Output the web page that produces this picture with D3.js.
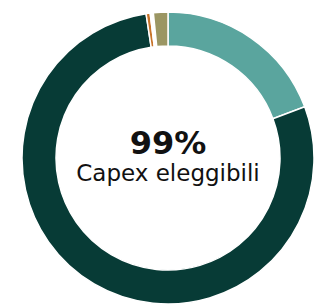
<!DOCTYPE html>
<html>
<head>
<meta charset="utf-8">
<script src="https://cdn.jsdelivr.net/npm/d3@7"></script>
<style>
  body { margin: 0; background: #fff; }
  svg { display: block; }
</style>
</head>
<body>
<div id="chart"></div>
<script>
(function(){
// slices clockwise from 12 o'clock
const categories = ["Capex eleggibili allineati", "Capex eleggibili non allineati", "Altro A", "Altro B", "Capex non eleggibili"];
const values = [19.3, 78.3, 0.45, 0.35, 1.6];
const colors = ["#5aa59e", "#073b36", "#c8742a", "#ffffff", "#9b9663"];
const centerValue = "99%";
const centerLabel = "Capex eleggibili";

const width = 318, height = 305;
const cx = 168, cy = 158;
const outerR = 146, innerR = 112;

const svg = d3.select("#chart")
    .append("svg")
    .attr("width", width)
    .attr("height", height);

const g = svg.append("g")
    .attr("transform", `translate(${cx},${cy})`);

const pie = d3.pie().sort(null).value(d => d.value);
const arc = d3.arc().innerRadius(innerR).outerRadius(outerR);

const data = categories.map((c, i) => ({ name: c, value: values[i], color: colors[i] }));

g.selectAll("path")
    .data(pie(data))
    .enter()
    .append("path")
    .attr("d", arc)
    .attr("fill", d => d.data.color)
    .attr("stroke", "#fff")
    .attr("stroke-width", 1.5);

g.append("text")
    .attr("text-anchor", "middle")
    .attr("y", -4)
    .style("font-family", "'DejaVu Sans', sans-serif")
    .style("font-weight", 700)
    .style("font-size", "32px")
    .style("fill", "#111")
    .text(centerValue);

g.append("text")
    .attr("text-anchor", "middle")
    .attr("y", 23)
    .style("font-family", "'DejaVu Sans', sans-serif")
    .style("font-weight", 400)
    .style("font-size", "23px")
    .style("fill", "#111")
    .text(centerLabel);
})();
</script>
</body>
</html>
